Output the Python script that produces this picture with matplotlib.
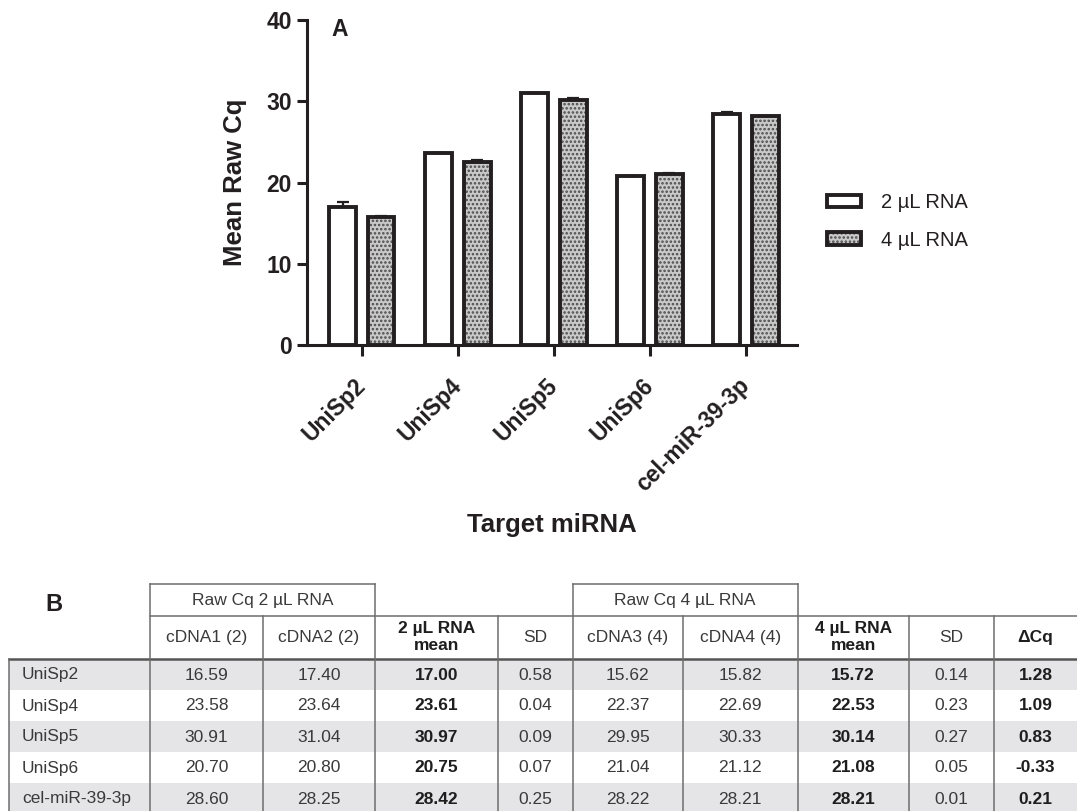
import matplotlib
matplotlib.use('Agg')
import matplotlib.pyplot as plt
from matplotlib.patches import Patch, Rectangle
from matplotlib.lines import Line2D
from matplotlib.legend_handler import HandlerTuple
import numpy as np

# ---------------- data ----------------
targets = ['UniSp2', 'UniSp4', 'UniSp5', 'UniSp6', 'cel-miR-39-3p']
cdna1 = [16.59, 23.58, 30.91, 20.70, 28.60]
cdna2 = [17.40, 23.64, 31.04, 20.80, 28.25]
mean2 = [17.00, 23.61, 30.97, 20.75, 28.42]
sd2 = [0.58, 0.04, 0.09, 0.07, 0.25]
cdna3 = [15.62, 22.37, 29.95, 21.04, 28.22]
cdna4 = [15.82, 22.69, 30.33, 21.12, 28.21]
mean4 = [15.72, 22.53, 30.14, 21.08, 28.21]
sd4 = [0.14, 0.23, 0.27, 0.05, 0.01]
dcq = [1.28, 1.09, 0.83, -0.33, 0.21]
series_labels = ['2 µL RNA', '4 µL RNA']
yticks = [0, 10, 20, 30, 40]
group_headers = ['Raw Cq 2 µL RNA', 'Raw Cq 4 µL RNA']
col_headers = ['cDNA1 (2)', 'cDNA2 (2)', '2 µL RNA\nmean', 'SD',
               'cDNA3 (4)', 'cDNA4 (4)', '4 µL RNA\nmean', 'SD', 'ΔCq']
bold_cols = [2, 6, 8]

plt.rcParams['font.family'] = ['Liberation Sans', 'DejaVu Sans']
plt.rcParams['hatch.linewidth'] = 1.2

W, H = 1077, 811
fig = plt.figure(figsize=(W / 100, H / 100), dpi=100)


def fx(v):
    return v / W


def fy(v):
    return 1 - v / H


ink = '#231f20'
dotc = '#4a4a4a'
fillc = '#c9c9c9'

# ---------------- chart A ----------------
ax = fig.add_axes([fx(307), fy(345), (797 - 307) / W, (345 - 20) / H])
x = np.arange(len(targets))
off, bw = 0.2, 0.28
ax.bar(x - off, mean2, bw, color='white', edgecolor=ink, lw=2.8, zorder=3)
ax.bar(x + off, mean4, bw, color=fillc, edgecolor=dotc, hatch='....',
       lw=0, zorder=2)
ax.bar(x + off, mean4, bw, fill=False, edgecolor=ink, lw=2.8, zorder=3)
zeros = np.zeros(len(targets))
ax.errorbar(x - off, mean2, yerr=[zeros, sd2], fmt='none', ecolor=ink,
            elinewidth=1.6, capsize=4.5, capthick=1.6, zorder=4)
ax.errorbar(x + off, mean4, yerr=[zeros, sd4], fmt='none', ecolor=ink,
            elinewidth=1.6, capsize=4.5, capthick=1.6, zorder=4)
ax.set_xlim(-0.57, 4.53)
ax.set_ylim(0, 40)
for s in ['top', 'right']:
    ax.spines[s].set_visible(False)
for s in ['left', 'bottom']:
    ax.spines[s].set_linewidth(2.2)
    ax.spines[s].set_color(ink)
ax.set_yticks(yticks)
ax.set_yticklabels([str(t) for t in yticks], fontweight='bold', fontsize=16.5,
                   color=ink)
ax.set_xticks(x)
ax.set_xticklabels(targets, rotation=45, ha='right', va='center',
                   rotation_mode='anchor', fontweight='bold', fontsize=16.5,
                   color=ink)
ax.tick_params(axis='y', length=7, width=2.2, pad=4, color=ink)
ax.tick_params(axis='x', length=8, width=2.2, pad=18.5, color=ink)
ax.set_ylabel('Mean Raw Cq', fontsize=18.5, fontweight='bold', color=ink)
ax.yaxis.set_label_coords(-0.1224, 0.5)
ax.set_xlabel('Target miRNA', fontsize=18.5, fontweight='bold', color=ink)
ax.xaxis.set_label_coords(0.5, -0.517)

h1 = Patch(facecolor='white', edgecolor=ink, lw=2.8)
h2a = Patch(facecolor=fillc, edgecolor=dotc, hatch='....', lw=0)
h2b = Patch(fill=False, edgecolor=ink, lw=2.8)
leg = ax.legend([h1, (h2a, h2b)], series_labels,
                handler_map={tuple: HandlerTuple(ndivide=1, pad=0)},
                loc='center left', bbox_to_anchor=(fx(827), fy(221.5)),
                bbox_transform=fig.transFigure, frameon=False, fontsize=14.5,
                handlelength=1.69, handleheight=0.55, handletextpad=1.0,
                labelspacing=0.9, borderpad=0, borderaxespad=0)
for t in leg.get_texts():
    t.set_color(ink)

fig.text(fx(331), fy(36), 'A', fontsize=16.5, fontweight='bold', color=ink,
         ha='left', va='baseline')

# ---------------- table B ----------------
fig.text(fx(45), fy(611), 'B', fontsize=17, fontweight='bold', color=ink,
         ha='left', va='baseline')

cols = [9, 150, 263, 375, 498, 572.5, 683, 797.5, 909, 994, 1080]
top1, top2, top3 = 584, 616, 658.5
rh = 31
nrows = len(targets)
bottom = top3 + rh * nrows

# row bands
for i in range(nrows):
    if i % 2 == 0:
        y0 = top3 + rh * i
        fig.add_artist(Rectangle((fx(9), fy(y0 + rh)), fx(1080 - 9), rh / H,
                                 transform=fig.transFigure, facecolor='#e5e5e7',
                                 lw=0, zorder=0))

lc = '#6e6e6e'


def hline(y, x0, x1, lw=1.1, c=lc):
    fig.add_artist(Line2D([fx(x0), fx(x1)], [fy(y), fy(y)],
                          transform=fig.transFigure, color=c, lw=lw, zorder=2))


def vline(xp, y0, y1, lw=1.1, c=lc):
    fig.add_artist(Line2D([fx(xp), fx(xp)], [fy(y0), fy(y1)],
                          transform=fig.transFigure, color=c, lw=lw, zorder=2))


hline(top1, cols[1], cols[3])
hline(top1, cols[5], cols[7])
hline(top2, cols[1], cols[10])
hline(top3, cols[0], cols[10], lw=1.8, c='#555555')
for c in [cols[1], cols[3], cols[5], cols[7]]:
    vline(c, top1, bottom)
for c in [cols[2], cols[4], cols[6], cols[8], cols[9]]:
    vline(c, top2, bottom)
vline(cols[0], top3, bottom)

tc = '#3a3a3a'
bc = '#1e1e1e'
fs = 12.5
# group headers
fig.text(fx((cols[1] + cols[3]) / 2), fy((top1 + top2) / 2 + 1), group_headers[0],
         ha='center', va='center', fontsize=fs, color=tc)
fig.text(fx((cols[5] + cols[7]) / 2), fy((top1 + top2) / 2 + 1), group_headers[1],
         ha='center', va='center', fontsize=fs, color=tc)
# column headers
for j, lab in enumerate(col_headers):
    cx = (cols[j + 1] + cols[j + 2]) / 2
    if j == 8:
        cx = 1035.5
    b = j in bold_cols
    fig.text(fx(cx), fy((top2 + top3) / 2), lab, ha='center', va='center',
             fontsize=fs, color=bc if b else tc,
             fontweight='bold' if b else 'normal', linespacing=1.15)

columns = [cdna1, cdna2, mean2, sd2, cdna3, cdna4, mean4, sd4, dcq]
for i in range(nrows):
    cy = top3 + rh * i + rh / 2 + 1
    fig.text(fx(22), fy(cy), targets[i], ha='left', va='center', fontsize=fs,
             color=tc)
    for j, colv in enumerate(columns):
        cx = (cols[j + 1] + cols[j + 2]) / 2
        if j == 8:
            cx = 1035.5
        b = j in bold_cols
        fig.text(fx(cx), fy(cy), f'{colv[i]:.2f}', ha='center', va='center',
                 fontsize=fs, color=bc if b else tc,
                 fontweight='bold' if b else 'normal')

fig.savefig('out.png', dpi=100)
